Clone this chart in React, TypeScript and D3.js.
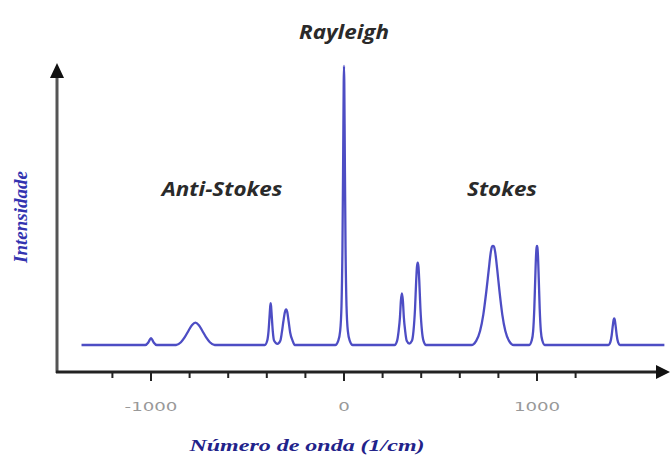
import React from "react";
import * as d3 from "d3";

// Spectrum: wavenumber (1/cm) and relative intensity (Rayleigh = 100)
const wavenumber = [
  -1360,
  -1030, -1015, -1006, -1000, -994, -985, -970,
  -870, -845, -825, -805, -787, -770, -753, -735, -715, -695, -670,
  -410, -398, -391, -386, -382, -380, -378, -374, -369, -362, -345,
  -330, -322, -314, -306, -302, -300, -298, -294, -287, -279, -266, -255,
  -45, -30, -20, -13, -8, -4, -1.5, 0, 1.5, 4, 8, 13, 20, 30, 45,
  262, 275, 283, 290, 295, 300, 305, 310, 317, 325, 338,
  352, 360, 368, 374, 378, 382, 386, 390, 396, 404, 412, 425,
  660, 685, 705, 722, 737, 750, 760, 767, 772, 777, 784, 794, 806, 820, 836, 855, 880,
  960, 972, 980, 986, 991, 995, 998, 1000, 1002, 1005, 1009, 1014, 1020, 1028, 1040,
  1370, 1380, 1387, 1392, 1397, 1400, 1403, 1408, 1413, 1420, 1430,
  1660,
];
const intensity = [
  0,
  0, 0.8, 1.9, 2.5, 1.9, 0.8, 0,
  0, 1, 2.8, 5.2, 7.2, 8, 7.2, 5.2, 2.8, 1, 0,
  0, 1.5, 5, 10, 14, 15, 14, 10, 5, 1.5, 0.4,
  1.5, 4.5, 8.5, 11.8, 12.6, 12.8, 12.6, 11.8, 8.5, 4.5, 1.5, 0,
  0, 1.5, 5, 14, 35, 70, 94, 100, 94, 70, 35, 14, 5, 1.5, 0,
  0, 1.5, 5, 10, 16, 18.5, 16, 10, 5, 1.5, 0.5,
  1.5, 5, 13, 23, 28, 29.5, 28, 23, 13, 5, 1.5, 0,
  0, 1.5, 5, 11, 19, 27, 33, 35.3, 35.5, 35.3, 33, 27, 19, 11, 5, 1.5, 0,
  0, 1.5, 5, 13, 24, 32, 35, 35.5, 35, 32, 24, 13, 5, 1.5, 0,
  0, 1, 3.5, 6.5, 9, 9.5, 9, 6.5, 3.5, 1, 0,
  0,
];

const tickValues = [-1200, -1000, -800, -600, -400, -200, 0, 200, 400, 600, 800, 1000, 1200];
const tickLabels = [-1000, 0, 1000];

const W = 670;
const H = 457;

const labelFont = "'Open Sans', sans-serif";
const serifFont = "'Liberation Serif', 'DejaVu Serif', serif";

export default function App() {
  const x = d3.scaleLinear().domain([-1000, 1000]).range([151, 537]);
  const y = d3.scaleLinear().domain([0, 100]).range([345, 66]);

  const pts: [number, number][] = wavenumber.map((w, i) => [w, intensity[i]]);
  const line = d3
    .line<[number, number]>()
    .x((d) => x(d[0]))
    .y((d) => y(d[1]))
    .curve(d3.curveMonotoneX);

  const axisY = 372;
  const axisX = 57;

  return (
    <svg
      width={W}
      height={H}
      viewBox={`0 0 ${W} ${H}`}
      style={{ position: "absolute", left: 0, top: 0, background: "#fff" }}
    >
      {/* y axis */}
      <line x1={axisX} y1={axisY + 1} x2={axisX} y2={77} stroke="#555" strokeWidth={3} />
      <path d={`M${axisX - 7},${78} L${axisX},${63} L${axisX + 7},${78} Z`} fill="#111" />
      {/* x axis */}
      <line x1={axisX - 1} y1={axisY} x2={658} y2={axisY} stroke="#222" strokeWidth={3} />
      <path d={`M${656},${axisY - 7} L${670},${axisY} L${656},${axisY + 7} Z`} fill="#111" />
      {/* ticks */}
      {tickValues.map((t) => {
        const major = tickLabels.includes(t);
        return (
          <line
            key={t}
            x1={x(t)}
            x2={x(t)}
            y1={axisY}
            y2={axisY + (major ? 9 : 6)}
            stroke="#222"
            strokeWidth={2}
          />
        );
      })}
      {tickLabels.map((t) => (
        <text
          key={t}
          transform={`translate(${x(t)},411) scale(1.4,1)`}
          textAnchor="middle"
          fontFamily="'DejaVu Sans', sans-serif"
          fontSize={13}
          fill="#999"
        >
          {String(t)}
        </text>
      ))}
      {/* spectrum */}
      <path d={line(pts) || ""} fill="none" stroke="#4d4dc4" strokeWidth={2.3} strokeLinejoin="round" />
      {/* labels */}
      <text transform="translate(344,39) scale(1.12,1)" textAnchor="middle" fontFamily={labelFont} fontStyle="italic" fontWeight={700} fontSize={20} fill="#2a2a2a">
        Rayleigh
      </text>
      <text transform="translate(222,196) scale(1.12,1)" textAnchor="middle" fontFamily={labelFont} fontStyle="italic" fontWeight={700} fontSize={20} fill="#2a2a2a">
        Anti-Stokes
      </text>
      <text transform="translate(502,196) scale(1.12,1)" textAnchor="middle" fontFamily={labelFont} fontStyle="italic" fontWeight={700} fontSize={20} fill="#2a2a2a">
        Stokes
      </text>
      <text
        transform={`translate(27,217) rotate(-90)`}
        textAnchor="middle"
        fontFamily={serifFont}
        fontStyle="italic"
        fontWeight={700}
        fontSize={19}
        fill="#3333b0"
      >
        Intensidade
      </text>
      <text
        transform="translate(307,451) scale(1.5,1)"
        textAnchor="middle"
        fontFamily={serifFont}
        fontStyle="italic"
        fontWeight={700}
        fontSize={16}
        fill="#22228a"
      >
        Número de onda (1/cm)
      </text>
    </svg>
  );
}
